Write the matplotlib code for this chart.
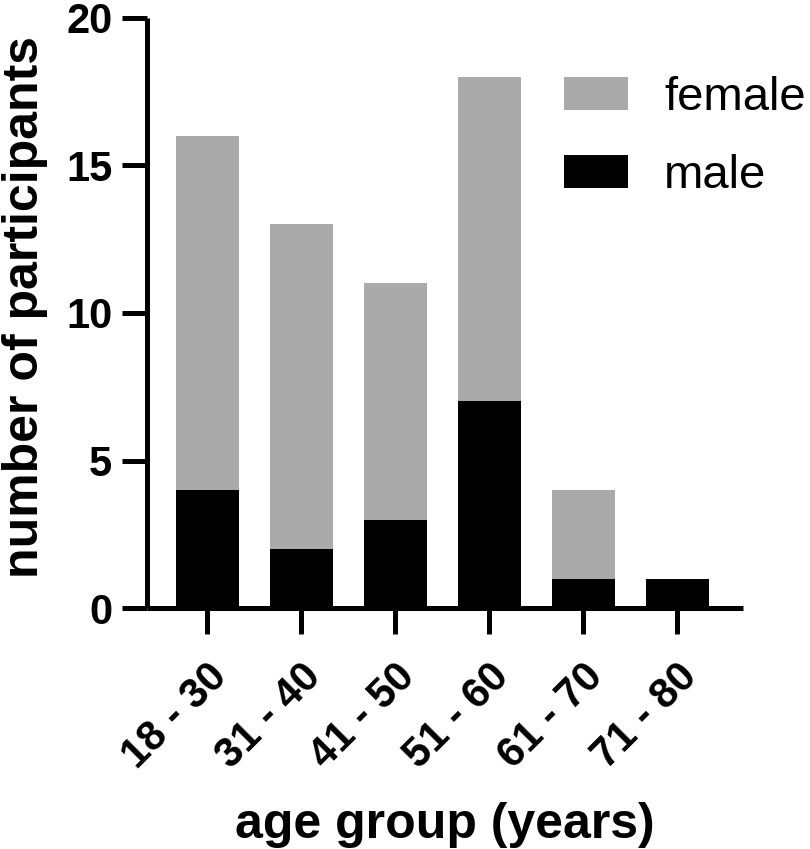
import matplotlib
matplotlib.use('Agg')
import matplotlib.pyplot as plt
import numpy as np

plt.rcParams['font.family'] = ['Liberation Sans', 'DejaVu Sans']

# data
age_groups = ['18 - 30', '31 - 40', '41 - 50', '51 - 60', '61 - 70', '71 - 80']
male = [4, 2, 3, 7, 1, 1]
female = [12, 11, 8, 11, 3, 0]

gray = '#aaaaaa'
lw = 3.6  # axis line width, pt

fig = plt.figure(figsize=(8.1, 8.49), dpi=100)
ax = fig.add_axes((147 / 810, 1 - 608 / 849, (743 - 147) / 810, (608 - 18) / 849))

x = np.arange(len(age_groups))
bar_w = 0.67
ax.bar(x, male, width=bar_w, color='black', label='male', zorder=3)
ax.bar(x, female, width=bar_w, bottom=male, color=gray, label='female', zorder=3)

ax.set_xlim(-0.64, 5.70)
ax.set_ylim(0, 20)
ax.set_yticks([0, 5, 10, 15, 20])

# spines
for s in ['top', 'right']:
    ax.spines[s].set_visible(False)
for s in ['left', 'bottom']:
    ax.spines[s].set_linewidth(lw)
    ax.spines[s].set_capstyle('butt')

ax.tick_params(axis='y', length=18, width=lw, pad=7, labelsize=30)
ax.tick_params(axis='x', length=19, width=lw, pad=16, labelsize=30)
for t in ax.get_yticklabels():
    t.set_fontweight('bold')

ax.set_xticks(x)
ax.set_xticklabels(age_groups, rotation=45, ha='right', va='top',
                   rotation_mode='anchor', fontweight='bold')

ax.set_ylabel('number of participants', fontsize=36, fontweight='bold')
ax.yaxis.set_label_coords(-0.166, 0.51)
ax.set_xlabel('age group (years)', fontsize=36, fontweight='bold', labelpad=18)

# legend: female above male
handles, labels = ax.get_legend_handles_labels()
ax.legend(handles[::-1], labels[::-1], loc='upper left',
          bbox_to_anchor=(564 / 810, 1 - 76 / 849), bbox_transform=fig.transFigure,
          frameon=False, fontsize=34, borderpad=0, borderaxespad=0,
          handlelength=1.36, handleheight=0.68, handletextpad=0.76,
          labelspacing=0.72)

fig.savefig('out.png', dpi=100)
